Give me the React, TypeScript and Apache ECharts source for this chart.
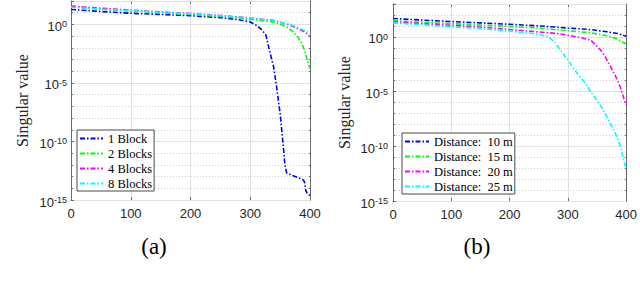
import React, { useEffect, useRef } from 'react';
import * as echarts from 'echarts';

// ---------- Panel (a): number of blocks ----------
const blockNames = ['1 Block', '2 Blocks', '4 Blocks', '8 Blocks'];

const block1X = [0, 50, 100, 150, 200, 250, 280, 300, 311, 320, 326, 333, 339, 344, 347, 350, 353, 356, 358, 361, 370, 380, 389, 391, 393, 396, 400];
const block1Y = [19, 12.6, 8.9, 7.1, 5.5, 3.8, 2.5, 1.6, 0.79, 0.32, 0.13, 4e-3, 2.5e-4, 5e-6, 3.2e-7, 2.5e-8, 6.3e-10, 1.6e-11, 1e-12, 2e-13, 1.3e-13, 8e-14, 5e-14, 3.2e-14, 6.3e-15, 3.2e-15, 2.5e-15];

const block2X = [0, 50, 100, 150, 200, 250, 283, 300, 339, 361, 372, 380, 386, 390, 394, 397, 400];
const block2Y = [32, 20, 14, 10, 7.1, 4.7, 3.2, 2.7, 1.6, 0.63, 0.23, 0.079, 0.025, 7.9e-3, 1.6e-3, 5e-4, 1.6e-4];

const block4X = [0, 50, 100, 150, 200, 250, 283, 300, 339, 366, 383, 392, 400];
const block4Y = [37, 24, 16.6, 11.7, 8.5, 5.8, 4.2, 3.5, 2.2, 0.89, 0.37, 0.22, 0.089];

const block8X = [0, 50, 100, 150, 200, 250, 283, 300, 339, 366, 383, 394, 400];
const block8Y = [29.5, 20, 14.8, 11, 7.9, 5.5, 4, 3.4, 2.1, 1.0, 0.45, 0.25, 0.17];

// ---------- Panel (b): distance ----------
const distanceNames = ['Distance:  10 m', 'Distance:  15 m', 'Distance:  20 m', 'Distance:  25 m'];

const dist10X = [0, 50, 100, 150, 200, 250, 282, 300, 339, 367, 385, 400];
const dist10Y = [47, 34, 25, 19, 14, 10, 7.6, 6.3, 4.6, 2.9, 2.0, 1.15];

const dist15X = [0, 50, 100, 150, 200, 250, 282, 300, 339, 367, 385, 400];
const dist15Y = [29, 21, 16, 12, 8.9, 6.3, 4.3, 3.5, 2.4, 1.26, 0.63, 0.22];

const dist20X = [0, 50, 100, 150, 200, 250, 282, 300, 325, 339, 345, 356, 365, 373, 382, 390, 396, 400];
const dist20Y = [23.4, 16, 11.2, 7.9, 4.7, 2.8, 2.0, 1.4, 0.79, 0.5, 0.25, 0.063, 0.0126, 2e-3, 2.5e-4, 2.5e-5, 2.5e-6, 5.8e-7];

const dist25X = [0, 50, 100, 150, 200, 240, 265, 277, 290, 300, 311, 328, 339, 356, 367, 384, 390, 398, 400];
const dist25Y = [19, 12.6, 8.3, 5.6, 3.3, 2.0, 1.12, 0.35, 0.04, 7.9e-3, 1e-3, 7.9e-5, 1e-5, 5e-7, 5e-8, 7.9e-10, 1e-10, 2e-12, 1e-12];

// axis ranges / ticks
const xMin = 0;
const xMax = 400;
const xStep = 100;
const yMinExp = -15;
const yMaxExpA = 2;
const yMaxExpB = 3;
const yMajorStep = 5;
const yMinorStep = 1;

const seriesColors = ['#0000ff', '#00ff00', '#ff00ff', '#00ffff'];

const SANS = '"Liberation Sans", Arial, sans-serif';
const SERIF = '"Liberation Serif", "Times New Roman", serif';
const AXIS_COLOR = '#6b6b6b';
const LABEL_COLOR = '#262626';

function toLogPairs(xs: number[], ys: number[]) {
  return xs.map((x, i) => [x, Math.log10(ys[i])]);
}

function lineSeries(name: string, xs: number[], ys: number[], color: string, xIdx: number, yIdx: number) {
  return {
    type: 'line',
    name,
    xAxisIndex: xIdx,
    yAxisIndex: yIdx,
    data: toLogPairs(xs, ys),
    showSymbol: false,
    symbol: 'circle',
    color,
    itemStyle: { color },
    lineStyle: { color, width: 1.6, type: [5, 2, 1.5, 2] },
    z: 5,
  };
}

function xAxes(gridIndex: number) {
  return [
    {
      type: 'value',
      gridIndex,
      position: 'bottom',
      min: xMin,
      max: xMax,
      interval: xStep,
      axisLine: { show: true, onZero: false, lineStyle: { color: AXIS_COLOR, width: 1 } },
      axisTick: { show: true, inside: true, length: 3, lineStyle: { color: AXIS_COLOR } },
      axisLabel: { color: LABEL_COLOR, fontFamily: SANS, fontSize: 13, margin: 7 },
      splitLine: { show: true, lineStyle: { color: '#e2e2e2', width: 1 } },
    },
    {
      type: 'value',
      gridIndex,
      position: 'top',
      min: xMin,
      max: xMax,
      interval: xStep,
      axisLine: { show: true, onZero: false, lineStyle: { color: AXIS_COLOR, width: 1 } },
      axisTick: { show: true, inside: true, length: 3, lineStyle: { color: AXIS_COLOR } },
      axisLabel: { show: false },
      splitLine: { show: false },
    },
  ];
}

function yAxes(gridIndex: number, maxExp: number, labelMargin: number) {
  return [
    {
      type: 'value',
      gridIndex,
      position: 'left',
      min: yMinExp,
      max: maxExp,
      interval: yMajorStep,
      axisLine: { show: true, onZero: false, lineStyle: { color: AXIS_COLOR, width: 1 } },
      axisTick: { show: true, inside: true, length: 3, lineStyle: { color: AXIS_COLOR } },
      axisLabel: {
        margin: labelMargin,
        padding: [4, 0, 0, 0],
        formatter: (v: number) => (Math.round(v) % yMajorStep === 0 ? `{b|10}{s|${Math.round(v)}}` : ''),
        rich: {
          b: { fontFamily: SANS, fontSize: 13, color: LABEL_COLOR, lineHeight: 13, padding: [4, 0, 0, 0], verticalAlign: 'bottom' },
          s: { fontFamily: SANS, fontSize: 9, color: LABEL_COLOR, lineHeight: 9, verticalAlign: 'top' },
        },
      },
      name: 'Singular value',
      nameLocation: 'middle',
      nameGap: 41,
      nameTextStyle: { fontFamily: SERIF, fontSize: 16, color: LABEL_COLOR },
      splitLine: { show: true, lineStyle: { color: '#e2e2e2', width: 1 } },
      z: 3,
    },
    {
      type: 'value',
      gridIndex,
      position: 'left',
      min: yMinExp,
      max: maxExp,
      interval: yMinorStep,
      axisLine: { show: false },
      axisTick: { show: true, inside: true, length: 2, lineStyle: { color: AXIS_COLOR } },
      axisLabel: { show: false },
      splitLine: { show: true, lineStyle: { color: '#cfcfcf', width: 1, type: [1, 2] } },
      z: 2,
    },
    {
      type: 'value',
      gridIndex,
      position: 'right',
      min: yMinExp,
      max: maxExp,
      interval: yMinorStep,
      axisLine: { show: true, onZero: false, lineStyle: { color: AXIS_COLOR, width: 1 } },
      axisTick: { show: true, inside: true, length: 2, lineStyle: { color: AXIS_COLOR } },
      axisLabel: { show: false },
      splitLine: { show: false },
    },
  ];
}

function legendOf(names: string[], left: number, top: number, itemWidth: number) {
  return {
    data: names,
    left,
    top,
    orient: 'vertical',
    itemWidth,
    itemHeight: 10,
    itemGap: 0,
    padding: [1, 2, 0, 2],
    borderColor: '#4a4a4a',
    borderWidth: 1,
    borderRadius: 0,
    backgroundColor: '#ffffff',
    selectedMode: false,
    itemStyle: { opacity: 0 },
    textStyle: { fontFamily: SERIF, fontSize: 12.5, color: '#000', lineHeight: 15 },
  };
}

export default function App() {
  const ref = useRef<HTMLDivElement>(null);

  useEffect(() => {
    if (!ref.current) return;
    const chart = echarts.init(ref.current, undefined, { renderer: 'svg' });
    const blockX = [block1X, block2X, block4X, block8X];
    const blockY = [block1Y, block2Y, block4Y, block8Y];
    const distX = [dist10X, dist15X, dist20X, dist25X];
    const distY = [dist10Y, dist15Y, dist20Y, dist25Y];

    const series: any[] = [];
    blockNames.forEach((n, i) => series.push(lineSeries(n, blockX[i], blockY[i], seriesColors[i], 0, 0)));
    distanceNames.forEach((n, i) => series.push(lineSeries(n, distX[i], distY[i], seriesColors[i], 2, 3)));

    chart.setOption({
      animation: false,
      backgroundColor: '#ffffff',
      grid: [
        { left: 71, top: 1, width: 239, height: 199 },
        { left: 393, top: 4, width: 236, height: 197 },
      ],
      xAxis: [...xAxes(0), ...xAxes(1)],
      yAxis: [...yAxes(0, yMaxExpA, 4), ...yAxes(1, yMaxExpB, 5)],
      legend: [legendOf(blockNames, 77, 130, 23), legendOf(distanceNames, 402, 133, 24)],
      series,
      graphic: [
        { type: 'text', x: 154, y: 246, style: { text: '(a)', fontFamily: SERIF, fontSize: 23, fill: '#000', align: 'center', verticalAlign: 'middle' } },
        { type: 'text', x: 477, y: 246, style: { text: '(b)', fontFamily: SERIF, fontSize: 23, fill: '#000', align: 'center', verticalAlign: 'middle' } },
      ],
    });
    return () => chart.dispose();
  }, []);

  return <div ref={ref} style={{ position: 'fixed', left: 0, top: 0, width: 640, height: 285 }} />;
}
